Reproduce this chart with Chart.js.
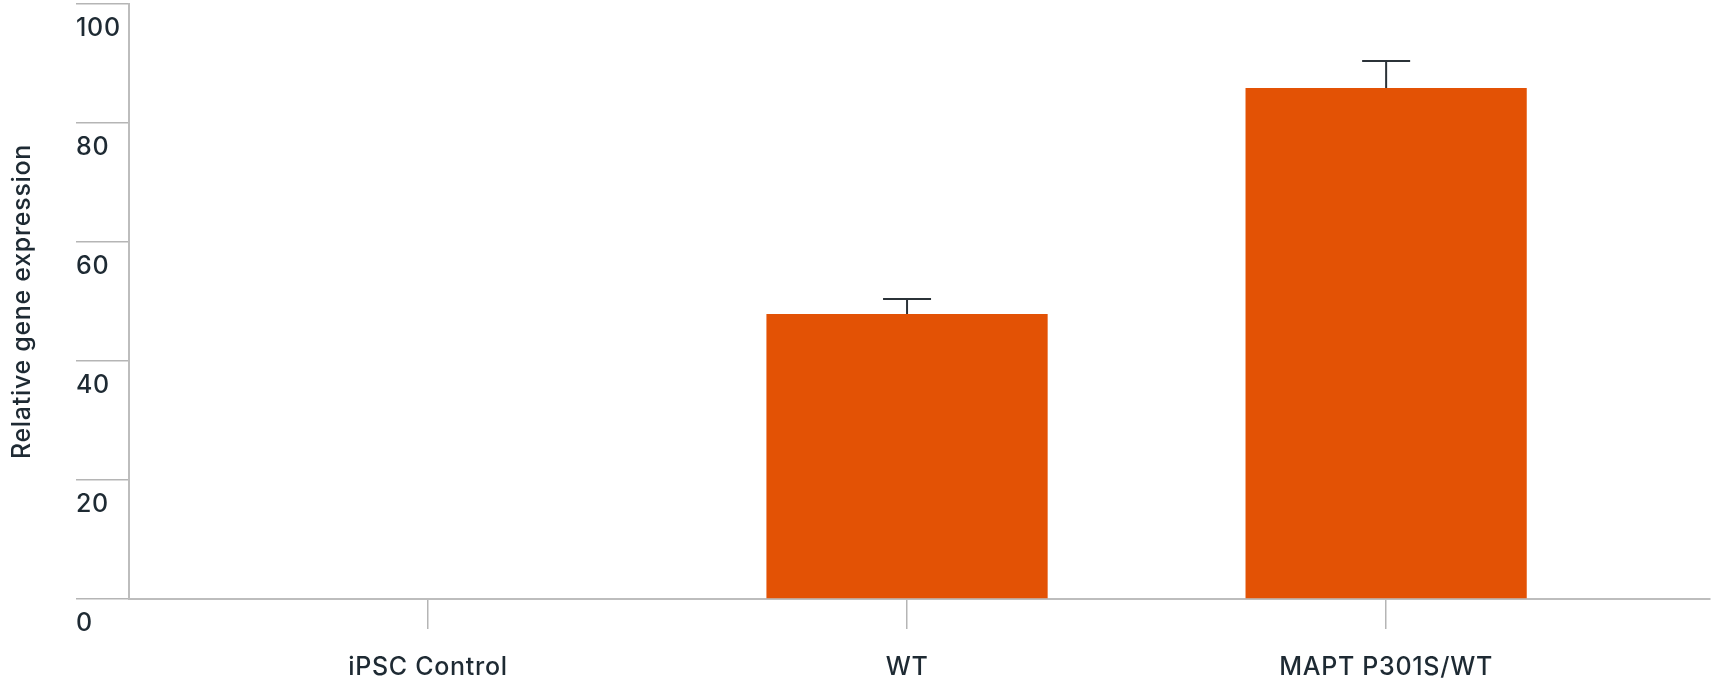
<!DOCTYPE html>
<html>
<head>
<meta charset="utf-8">
<script src="https://cdn.jsdelivr.net/npm/chart.js@4"></script>
<style>
  html, body { margin: 0; padding: 0; background: #fff; }
  #wrap { width: 1715px; height: 691px; }
</style>
</head>
<body>
<div id="wrap"><canvas id="geneChart"></canvas></div>
<script>
const categories = ['iPSC Control', 'WT', 'MAPT P301S/WT'];
const expression = [0, 47.9, 85.9];
const errorUp = [0, 2.5, 4.5];
const yTicks = [0, 20, 40, 60, 80, 100];

const textColor = '#1e2a33';
const axisColor = '#bdbdbd';
const labelFont = { family: 'Inter', size: 25, weight: 500 };

// a bit of tracking, the original type runs wide
const tracking = {
    id: 'tracking',
    beforeLayout(chart) { chart.ctx.letterSpacing = '0.7px'; },
    beforeDraw(chart) { chart.ctx.letterSpacing = '0.7px'; }
};

// error bar, only the upper half with a cap
const errorBars = {
    id: 'errorBars',
    afterDatasetsDraw(chart) {
        const ctx = chart.ctx;
        const meta = chart.getDatasetMeta(0);
        const y = chart.scales.y;
        ctx.save();
        ctx.strokeStyle = '#2b3238';
        ctx.lineWidth = 2;
        meta.data.forEach((bar, i) => {
            if (!errorUp[i]) return;
            const top = y.getPixelForValue(expression[i] + errorUp[i]);
            const base = y.getPixelForValue(expression[i]);
            ctx.beginPath();
            ctx.moveTo(bar.x, base);
            ctx.lineTo(bar.x, top);
            ctx.moveTo(bar.x - 24, top);
            ctx.lineTo(bar.x + 24, top);
            ctx.stroke();
        });
        ctx.restore();
    }
};

new Chart(document.getElementById('geneChart'), {
    type: 'bar',
    data: {
        datasets: [{
            data: expression.map((v, i) => ({ x: i, y: v })),
            backgroundColor: '#e35205',
            borderWidth: 0,
            categoryPercentage: 1,
            barPercentage: 0.587
        }]
    },
    options: {
        responsive: true,
        maintainAspectRatio: false,
        animation: false,
        layout: { padding: { top: 4, right: 5, left: 76, bottom: 0 } },
        plugins: { legend: { display: false }, tooltip: { enabled: false } },
        scales: {
            x: {
                type: 'linear',
                min: -0.624,
                max: 2.676,
                offset: false,
                afterFit: (s) => { s.height = 92; },
                border: { color: axisColor, width: 2 },
                grid: { offset: false, drawOnChartArea: false, tickLength: 30, color: '#b5b5b5', lineWidth: 1.5 },
                ticks: {
                    stepSize: 1,
                    includeBounds: false,
                    maxRotation: 0,
                    padding: 23,
                    color: textColor,
                    font: labelFont,
                    callback: (v) => categories[v] ?? ''
                }
            },
            y: {
                min: 0,
                max: 100,
                afterFit: (s) => { s.width = 53; },
                afterBuildTicks: (s) => { s.ticks = yTicks.map(v => ({ value: v })); },
                border: { color: axisColor, width: 2 },
                grid: { drawOnChartArea: false, tickLength: 53, color: '#b5b5b5', lineWidth: 1.5 },
                ticks: {
                    align: 'start',
                    crossAlign: 'far',
                    padding: 0,
                    labelOffset: 12,
                    color: textColor,
                    font: labelFont
                },
                title: {
                    display: true,
                    text: 'Relative gene expression',
                    color: textColor,
                    font: labelFont,
                    padding: { top: -69, bottom: 0 }
                }
            }
        }
    },
    plugins: [tracking, errorBars]
});
</script>
</body>
</html>
